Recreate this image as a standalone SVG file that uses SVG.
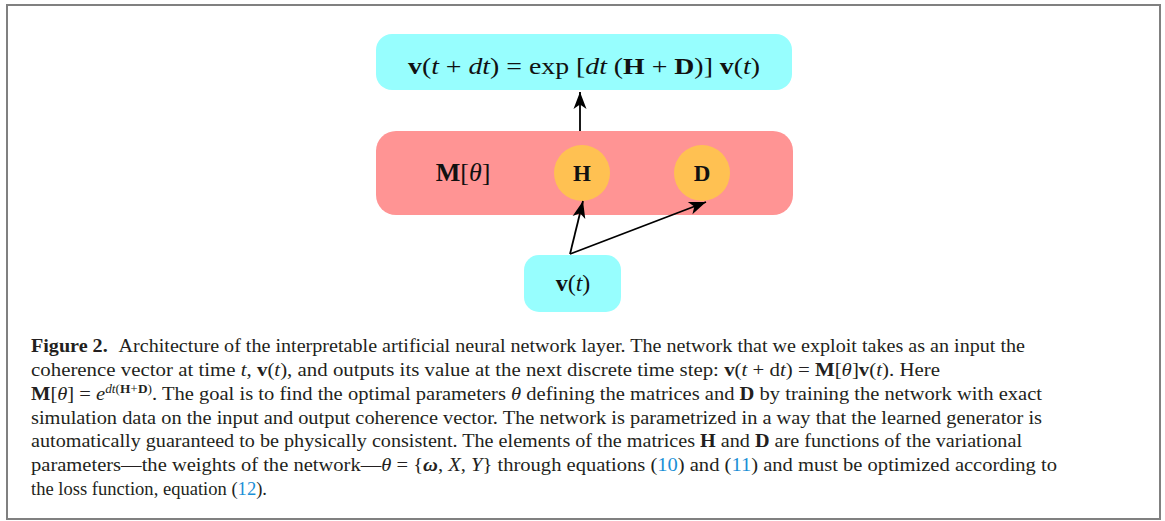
<svg xmlns="http://www.w3.org/2000/svg" width="1165" height="521" viewBox="0 0 1165 521">
<style>
.math{font-family:"Liberation Serif","DejaVu Serif",serif;fill:#111;}
.b{font-weight:bold;font-style:normal;}
.i{font-style:italic;}
.cap{font-family:"Liberation Serif","DejaVu Serif",serif;font-size:18.5px;fill:#231f20;}
.link{fill:#1a8fd6;}
.edge{stroke:#000;stroke-width:1.8;fill:none;marker-end:url(#stealth);}
</style>
<defs>
<marker id="stealth" viewBox="-2 -8 22 16" refX="17" refY="0" markerWidth="22" markerHeight="16" markerUnits="userSpaceOnUse" orient="auto">
<path d="M0,-6.5 L17,0 L0,6.5 L4.5,0 Z" fill="#000"/>
</marker>
</defs>
<rect x="7" y="5" width="1153" height="514" fill="#fff" stroke="#808080" stroke-width="2"/>
<g id="output">
<rect x="376" y="34" width="416" height="56" rx="16" fill="#97fefe"/>
<text class="math" x="584" y="74" font-size="24" text-anchor="middle" textLength="352" lengthAdjust="spacingAndGlyphs"><tspan class="b">v</tspan>(<tspan class="i">t</tspan> + <tspan class="i">dt</tspan>) = exp [<tspan class="i">dt</tspan> (<tspan class="b">H</tspan> + <tspan class="b">D</tspan>)] <tspan class="b">v</tspan>(<tspan class="i">t</tspan>)</text>
</g>
<g id="layer">
<rect x="376" y="131" width="417" height="84" rx="20" fill="#ff9494"/>
<text class="math" x="463" y="181" font-size="26" text-anchor="middle"><tspan class="b">M</tspan>[<tspan class="i">θ</tspan>]</text>
</g>
<g id="H">
<circle cx="582" cy="173" r="28" fill="#ffc152"/>
<text class="math b" x="582" y="181" font-size="23" text-anchor="middle">H</text>
</g>
<g id="D">
<circle cx="702" cy="173" r="28" fill="#ffc152"/>
<text class="math b" x="702" y="181" font-size="23" text-anchor="middle">D</text>
</g>
<g id="input">
<rect x="524" y="255" width="97" height="57" rx="15" fill="#97fefe"/>
<text class="math" x="573" y="291" font-size="24" text-anchor="middle"><tspan class="b">v</tspan>(<tspan class="i">t</tspan>)</text>
</g>
<g id="connectors">
<line class="edge" x1="580" y1="131" x2="580" y2="92"/>
<line class="edge" x1="570" y1="254" x2="583" y2="201"/>
<line class="edge" x1="570" y1="254" x2="706" y2="202"/>
</g>
<g id="caption">
<text class="cap" x="31" y="352" textLength="994" lengthAdjust="spacingAndGlyphs"><tspan font-weight="bold">Figure 2.</tspan><tspan dx="10">Architecture of the interpretable artificial neural network layer. The network that we exploit takes as an input the</tspan></text>
<text class="cap" x="31" y="376" textLength="909" lengthAdjust="spacingAndGlyphs">coherence vector at time <tspan class="i">t</tspan>, <tspan class="b">v</tspan>(<tspan class="i">t</tspan>), and outputs its value at the next discrete time step: <tspan class="b">v</tspan>(<tspan class="i">t</tspan> + d<tspan class="i">t</tspan>) = <tspan class="b">M</tspan>[<tspan class="i">θ</tspan>]<tspan class="b">v</tspan>(<tspan class="i">t</tspan>). Here</text>
<text class="cap" x="31" y="400" textLength="1011" lengthAdjust="spacingAndGlyphs"><tspan class="b">M</tspan>[<tspan class="i">θ</tspan>] = <tspan class="i">e</tspan><tspan font-size="12" dy="-7"><tspan class="i">dt</tspan>(<tspan class="b">H</tspan>+<tspan class="b">D</tspan>)</tspan><tspan dy="7">. The goal is to find the optimal parameters </tspan><tspan class="i">θ</tspan> defining the matrices and <tspan class="b">D</tspan> by training the network with exact</text>
<text class="cap" x="31" y="423.5" textLength="1011" lengthAdjust="spacingAndGlyphs">simulation data on the input and output coherence vector. The network is parametrized in a way that the learned generator is</text>
<text class="cap" x="31" y="447" textLength="991" lengthAdjust="spacingAndGlyphs">automatically guaranteed to be physically consistent. The elements of the matrices <tspan class="b">H</tspan> and <tspan class="b">D</tspan> are functions of the variational</text>
<text class="cap" x="31" y="471" textLength="1026" lengthAdjust="spacingAndGlyphs">parameters—the weights of the network—<tspan class="i">θ</tspan> = {<tspan font-weight="bold" font-style="italic">ω</tspan>, <tspan class="i">X</tspan>, <tspan class="i">Y</tspan>} through equations (<tspan class="link">10</tspan>) and (<tspan class="link">11</tspan>) and must be optimized according to</text>
<text class="cap" x="31" y="495" textLength="236" lengthAdjust="spacingAndGlyphs">the loss function, equation (<tspan class="link">12</tspan>).</text>
</g>
</svg>
